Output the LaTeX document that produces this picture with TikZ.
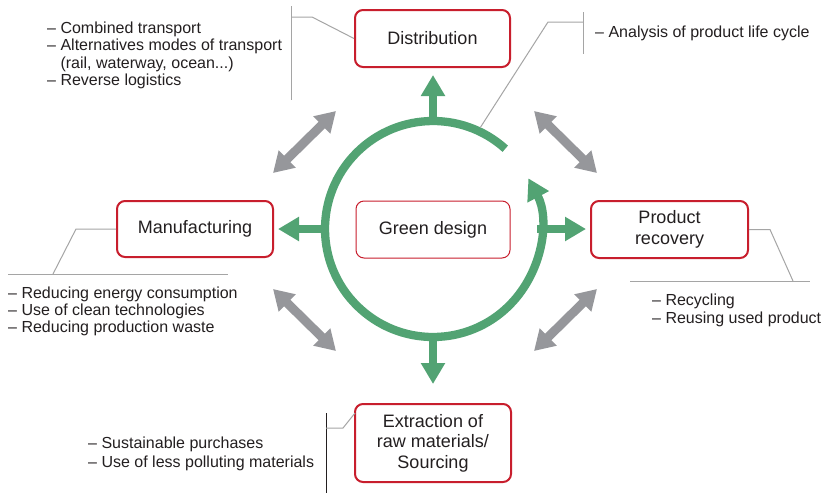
\documentclass[tikz,border=0pt]{standalone}
\usepackage{fontspec}
\setmainfont{Liberation Sans}
\usetikzlibrary{arrows.meta,calc}
\definecolor{boxred}{RGB}{200,30,45}
\definecolor{dgreen}{RGB}{82,163,115}
\definecolor{agray}{RGB}{150,151,155}
\definecolor{lgray}{RGB}{165,165,165}
\definecolor{txt}{RGB}{35,31,32}
\begin{document}
\begin{tikzpicture}[x=1pt,y=-1pt,
 stagebox/.style={draw=boxred, line width=2pt, rounded corners=8pt, minimum width=155pt, minimum height=57pt, align=center, font=\fontsize{18}{20.5}\selectfont, text=txt, inner sep=0pt},
 listtext/.style={anchor=base west, inner sep=0pt, font=\fontsize{16}{17.5}\selectfont, text=txt},
 garrow/.style={draw=dgreen, line width=8.3pt, -{Triangle[width=23pt,length=21pt]}},
 grayarrow/.style={draw=agray, line width=9pt, {Triangle[width=23pt,length=20pt]}-{Triangle[width=23pt,length=20pt]}},
 callout/.style={draw=lgray, line width=1pt},
]
\useasboundingbox[fill=white] (0,0) rectangle (826,493);

% boxes
\node[stagebox] (dist) at (432.5,38.5) {Distribution};
\node[stagebox, minimum width=156pt, minimum height=56pt] (manu) at (195,229) {Manufacturing};
\node[stagebox, minimum width=157pt] (prod) at (669.5,229.5) {Product\\recovery};
\node[stagebox, minimum width=156pt, minimum height=78pt] (extr) at (433,443) {Extraction of\\raw materials/\\Sourcing};
\node[stagebox, line width=1pt, minimum width=154pt] (gd) at (433,229.5) {Green design};

% circle
\coordinate (c) at (433,229);
\draw[garrow] (c) ++(-48:108) arc[start angle=-48, end angle=-388, radius=108];

% green arrows
\coordinate (ctop) at (433,125);
\coordinate (tiptop) at (433,75);
\coordinate (cleft) at (329,229);
\coordinate (tipleft) at (278,229);
\coordinate (cright) at (537,229);
\coordinate (tipright) at (586,229);
\coordinate (cbot) at (433,333);
\coordinate (tipbot) at (433,384);
\draw[garrow] (ctop) -- (tiptop);
\draw[garrow] (cleft) -- (tipleft);
\draw[garrow] (cright) -- (tipright);
\draw[garrow] (cbot) -- (tipbot);

% gray double arrows
\coordinate (tl1) at (273,173); \coordinate (tl2) at (336,111);
\coordinate (tr1) at (534,111); \coordinate (tr2) at (597,173);
\coordinate (bl1) at (273,289); \coordinate (bl2) at (336,351);
\coordinate (br1) at (534,351); \coordinate (br2) at (597,289);
\draw[grayarrow] (tl1) -- (tl2);
\draw[grayarrow] (tr1) -- (tr2);
\draw[grayarrow] (bl1) -- (bl2);
\draw[grayarrow] (br1) -- (br2);

% callouts
\draw[callout] (291,6) -- (291,100);
\draw[callout] (291,17) -- (312,17) -- (dist.west);
\draw[callout] (583,12) -- (583,54);
\draw[callout] (583,22) -- (548,22) -- ($(c)+(-65:112)$);
\draw[callout] (8,274) -- (228,274);
\draw[callout] (53,274) -- (76,229) -- (manu.west);
\draw[callout] (630,281) -- (810,281);
\draw[callout] (793,281) -- (770,229.5) -- (prod.east);
\draw[draw=txt, line width=1pt] (326,413) -- (326,493);
\draw[callout] (326,428) -- (343,428) -- (355,413);

% texts
\node[listtext] (t1) at (47,33) {– Combined transport};
\node[listtext] (t2) at (47,50.5) {– Alternatives modes of transport};
\node[listtext] (t3) at (47,68) {\phantom{– }(rail, waterway, ocean...)};
\node[listtext] (t4) at (47,85.5) {– Reverse logistics};
\node[listtext] (a1) at (595,37) {– Analysis of product life cycle};
\node[listtext] (m1) at (8,298) {– Reducing energy consumption};
\node[listtext] (m2) at (8,315) {– Use of clean technologies};
\node[listtext] (m3) at (8,332) {– Reducing production waste};
\node[listtext] (p1) at (652,305) {– Recycling};
\node[listtext] (p2) at (652,323) {– Reusing used product};
\node[listtext] (e1) at (88,448) {– Sustainable purchases};
\node[listtext] (e2) at (88,467) {– Use of less polluting materials};
\end{tikzpicture}
\end{document}
